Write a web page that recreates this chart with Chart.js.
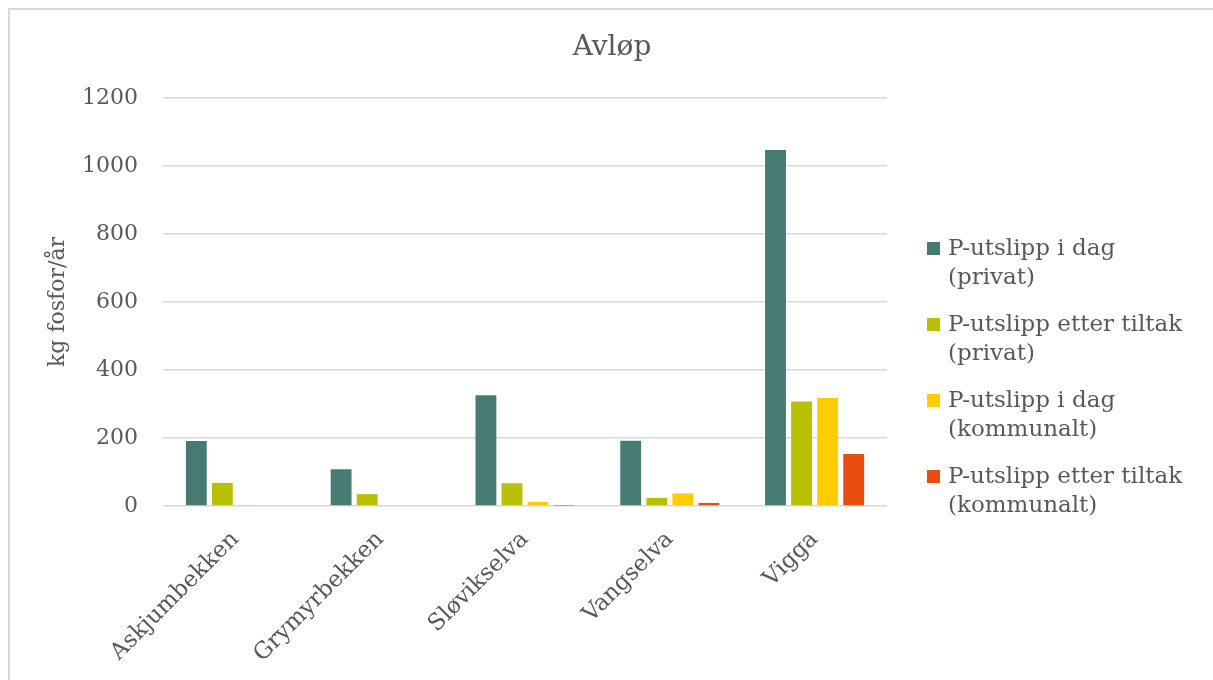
<!DOCTYPE html>
<html>
<head>
<meta charset="utf-8">
<script src="https://cdn.jsdelivr.net/npm/chart.js@4"></script>
<style>
  html, body {
    margin: 0;
    padding: 0;
    width: 1213px;
    height: 680px;
    background: #ffffff;
    overflow: hidden;
  }

  .frame-top {
    position: absolute;
    left: 8px;
    top: 8px;
    width: 1205px;
    height: 1.5px;
    background: #d9d9d9;
  }

  .frame-left {
    position: absolute;
    left: 8px;
    top: 8px;
    width: 1.5px;
    height: 672px;
    background: #d9d9d9;
  }

  .wrap {
    position: absolute;
    left: 0;
    top: 0;
    width: 1213px;
    height: 680px;
  }

  .chart-title {
    position: absolute;
    left: 0;
    top: 29px;
    width: 1224px;
    text-align: center;
    font-family: "DejaVu Serif", serif;
    font-size: 28px;
    line-height: 34px;
    color: #595959;
  }

  .legend {
    position: absolute;
    left: 927px;
    top: 233px;
    font-family: "DejaVu Serif", serif;
    font-size: 23px;
    line-height: 29px;
    color: #595959;
  }

  .legend-item {
    display: flex;
    align-items: flex-start;
    margin-bottom: 18px;
  }

  .legend-box {
    width: 13px;
    height: 13px;
    margin-top: 9px;
    margin-right: 8px;
    flex: none;
  }
</style>
</head>
<body>
<div class="frame-top"></div>
<div class="frame-left"></div>
<div class="wrap">
  <canvas id="avlopChart" width="1213" height="680"></canvas>
</div>
<div class="chart-title">Avløp</div>
<div class="legend" id="legend"></div>

<script>
/* =========================
   DATA
========================= */

const categories = [
  "Askjumbekken",
  "Grymyrbekken",
  "Sløvikselva",
  "Vangselva",
  "Vigga"
];

const seriesNames = [
  ["P-utslipp i dag", "(privat)"],
  ["P-utslipp etter tiltak", "(privat)"],
  ["P-utslipp i dag", "(kommunalt)"],
  ["P-utslipp etter tiltak", "(kommunalt)"]
];

const privatIDag = [191, 108, 326, 192, 1047];
const privatEtter = [68, 35, 67, 24, 307];
const kommunaltIDag = [1, 0, 12, 37, 318];
const kommunaltEtter = [0, 0, 1, 9, 153];

const yTicks = [0, 200, 400, 600, 800, 1000, 1200];

const seriesColors = [
  "#477b72",
  "#b9c000",
  "#ffcc00",
  "#e84e10"
];

const textColor = "#595959";
const gridColor = "#d9d9d9";
const fontFamily = "'DejaVu Serif', serif";

/* =========================
   CHART
========================= */

const seriesData = [
  privatIDag,
  privatEtter,
  kommunaltIDag,
  kommunaltEtter
];

const ctx =
  document
    .getElementById("avlopChart")
    .getContext("2d");

const avlopChart =
  new Chart(ctx, {

    type: "bar",

    data: {

      labels: categories,

      datasets: seriesData.map((values, i) => ({
        label: seriesNames[i].join(" "),
        data: values,
        backgroundColor: seriesColors[i],
        borderWidth: 0,
        barPercentage: 0.8,
        categoryPercentage: 0.72
      }))

    },

    options: {

      responsive: false,

      animation: false,

      layout: {
        padding: {
          left: 45,
          right: 326,
          top: 98,
          bottom: 0
        }
      },

      plugins: {

        legend: {
          display: false
        },

        tooltip: {
          enabled: false
        }

      },

      scales: {

        x: {

          grid: {
            display: false
          },

          border: {
            display: false
          },

          ticks: {
            color: textColor,
            minRotation: 45,
            maxRotation: 45,
            padding: 12,
            font: {
              family: fontFamily,
              size: 23
            }
          },

          afterFit(scale) {
            scale.height = 174;
          }

        },

        y: {

          min: 0,
          max: 1200,

          afterBuildTicks(scale) {
            scale.ticks = yTicks.map(v => ({ value: v }));
          },

          grid: {
            color: gridColor,
            lineWidth: 1.5,
            drawTicks: false
          },

          border: {
            display: false
          },

          ticks: {
            color: textColor,
            padding: 25,
            font: {
              family: fontFamily,
              size: 22
            },
            callback: value => String(value)
          },

          title: {
            display: true,
            text: "kg fosfor/år",
            color: textColor,
            padding: 0,
            font: {
              family: fontFamily,
              size: 22
            }
          },

          afterFit(scale) {
            scale.width = 118;
          }

        }

      }

    }

  });

/* =========================
   LEGEND
========================= */

const legendEl =
  document.getElementById("legend");

seriesNames.forEach((lines, i) => {

  const item =
    document.createElement("div");

  item.className = "legend-item";

  item.innerHTML = `
    <span class="legend-box" style="background:${seriesColors[i]}"></span>
    <span>${lines.join("<br>")}</span>
  `;

  legendEl.appendChild(item);

});
</script>
</body>
</html>
